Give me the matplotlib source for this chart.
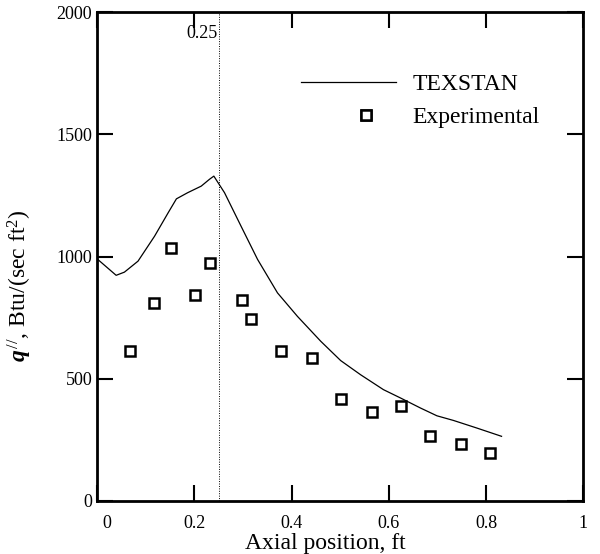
import numpy as np
import matplotlib
matplotlib.use('Agg')
import matplotlib.pyplot as plt
import matplotlib.transforms as mtransforms
from matplotlib.legend_handler import HandlerLine2D

plt.rcParams['font.family'] = ['Liberation Serif', 'DejaVu Serif']
plt.rcParams['mathtext.fontset'] = 'custom'
plt.rcParams['mathtext.rm'] = 'Liberation Serif'
plt.rcParams['mathtext.it'] = 'Liberation Serif:italic'
plt.rcParams['mathtext.bf'] = 'Liberation Serif:bold:italic'

# TEXSTAN prediction
texstan_x = [0, 0.039, 0.056, 0.084, 0.118, 0.146, 0.163, 0.186, 0.214, 0.231,
             0.240, 0.262, 0.296, 0.330, 0.371, 0.412, 0.460, 0.501, 0.542,
             0.589, 0.624, 0.665, 0.699, 0.733, 0.781, 0.832]
texstan_q = [990, 923, 936, 981, 1083, 1179, 1236, 1261, 1288, 1316,
             1329, 1261, 1124, 988, 851, 755, 653, 574, 516,
             455, 421, 380, 348, 329, 298, 264]

# Experimental data
exp_x = [0.067, 0.116, 0.151, 0.201, 0.232, 0.297, 0.317, 0.379, 0.443,
         0.502, 0.566, 0.626, 0.685, 0.748, 0.809]
exp_q = [615, 810, 1034, 843, 973, 823, 746, 612, 583,
         417, 365, 389, 266, 234, 197]

x_ticks = [0, 0.2, 0.4, 0.6, 0.8, 1]
x_ticklabels = ['0', '0.2', '0.4', '0.6', '0.8', '1']
y_ticks = [0, 500, 1000, 1500, 2000]
x_mark = 0.25


class MarkerRight(HandlerLine2D):
    # legend square sits right of centre, as in the original figure
    def get_xdata(self, legend, xdescent, ydescent, width, height, fontsize):
        xm = -xdescent + 0.68 * width
        return np.array([xm, xm]), np.array([xm, xm])


fig = plt.figure(figsize=(6.0, 5.54), dpi=100)
ax = fig.add_axes([0.162, 0.096, 0.81, 0.882])

ax.plot(texstan_x, texstan_q, color='black', lw=0.9, label='TEXSTAN')
exp_line, = ax.plot(exp_x, exp_q, ls='none', marker='s', ms=7, mfc='white',
                    mec='black', mew=1.8, label='Experimental')

# dotted marker line at 0.25
ax.axvline(x_mark, color='black', lw=0.7, ls=(0, (1, 1.5)))
ax.text(x_mark - 0.002, 1948, '0.25', ha='right', va='top', fontsize=13)

ax.set_xlim(0, 1)
ax.set_ylim(0, 2000)
ax.set_xticks(x_ticks)
ax.set_xticklabels(x_ticklabels)
ax.set_yticks(y_ticks)

ax.tick_params(direction='in', length=11.5, width=1.5, labelsize=13,
               top=True, right=True)
ax.tick_params(axis='x', pad=10)
ax.tick_params(axis='y', pad=3.5)
for s in ax.spines.values():
    s.set_linewidth(2.0)

# shift the x "0" label off the corner
lbl0 = ax.get_xticklabels()[0]
lbl0.set_transform(lbl0.get_transform() +
                   mtransforms.ScaledTranslation(10 / 100, 0, fig.dpi_scale_trans))

ax.set_xlabel('Axial position, ft', fontsize=17)
ax.xaxis.set_label_coords(0.47, -0.066)
ax.set_ylabel(r'$\mathbf{q}^{\,\mathit{//}}$, Btu/(sec ft$^2$)', fontsize=17)
ax.yaxis.set_label_coords(-0.13, 0.44)

ax.legend(loc='upper left', bbox_to_anchor=(0.42, 0.875), frameon=False,
          fontsize=17, handlelength=4.0, handletextpad=0.7,
          labelspacing=0.5, borderpad=0, borderaxespad=0,
          handler_map={exp_line: MarkerRight(numpoints=2)})

fig.savefig('out.png', dpi=100)
